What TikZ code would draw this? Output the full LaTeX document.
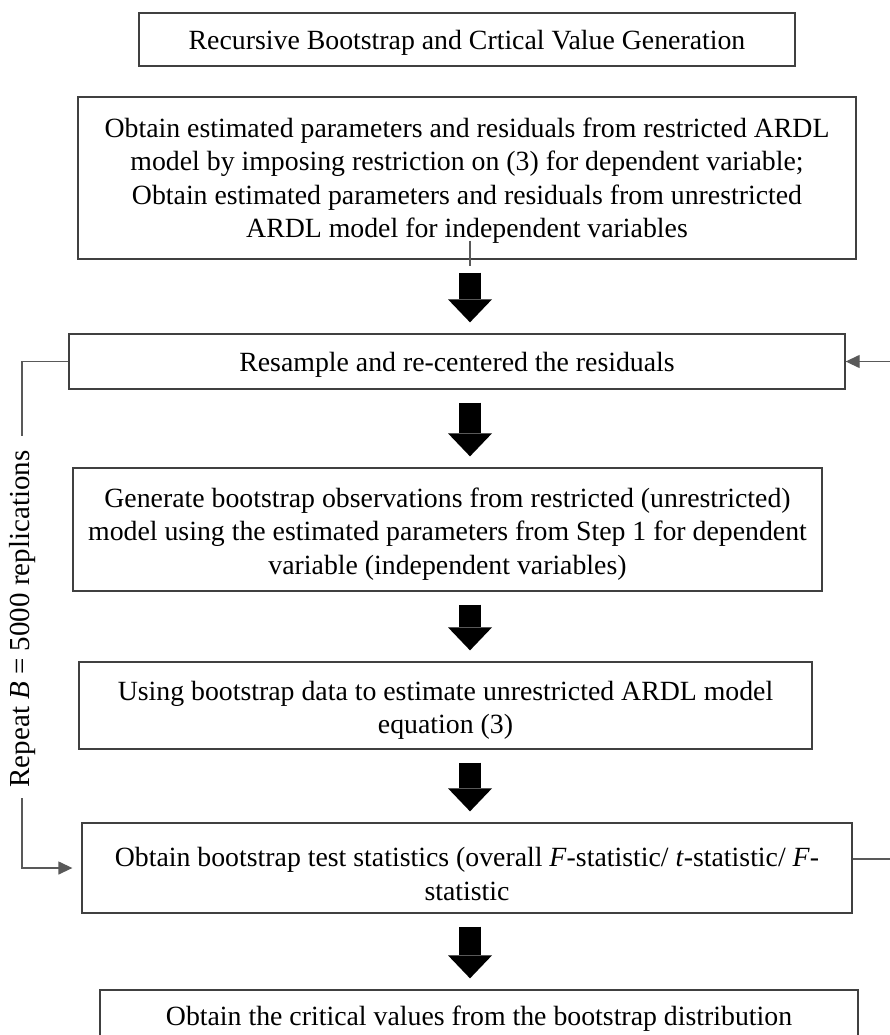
\documentclass[tikz,border=0pt]{standalone}
\usepackage{fontspec}
\setmainfont{Liberation Serif}
\usetikzlibrary{arrows.meta}
\newcommand\mydown[1]{\rule{0pt}{#1}}
\begin{document}
\begin{tikzpicture}[x=1pt,y=-1pt,
  box/.style={draw=black!75, line width=1.3pt, align=center, inner sep=0pt,
    font=\fontsize{27.8}{33.5}\selectfont, text=black},
  big/.style={line width=22pt, black, -{Triangle[width=44pt,length=23pt,line width=0pt]},
    shorten <=13pt, shorten >=11pt},
  thinline/.style={draw=black!65, line width=1.3pt},
  tip/.style={-{Triangle[length=14pt,width=13pt]}}
]
\useasboundingbox (0,0) rectangle (890,1035);
\clip (0,0) rectangle (890,1035);
\fill[white] (0,0) rectangle (890,1035);

\node[box, minimum width=656pt, minimum height=53pt] (b1) at (467,39.5)
  {\mydown{25pt}Recursive Bootstrap and Crtical Value Generation};
\node[box, minimum width=778pt, minimum height=162pt] (b2) at (467,178)
  {\mydown{25pt}Obtain estimated parameters and residuals from restricted ARDL\\
   model by imposing restriction on (3) for dependent variable;\\
   Obtain estimated parameters and residuals from unrestricted\\
   ARDL model for independent variables};
\node[box, minimum width=776pt, minimum height=55pt] (b3) at (457,361.5)
  {\mydown{25pt}Resample and re-centered the residuals};
\node[box, minimum width=749pt, minimum height=123pt] (b4) at (447.5,529.5)
  {\mydown{28pt}Generate bootstrap observations from restricted (unrestricted)\\
   model using the estimated parameters from Step 1 for dependent\\
   variable (independent variables)};
\node[box, minimum width=733pt, minimum height=87pt] (b5) at (445.5,705.5)
  {\mydown{29pt}Using bootstrap data to estimate unrestricted ARDL model\\
   equation (3)};
\node[box, minimum width=770pt, minimum height=90pt] (b6) at (467,868)
  {\mydown{31pt}Obtain bootstrap test statistics (overall \textit{F}-statistic/ \textit{t}-statistic/ \textit{F}-\\
   statistic};
\node[box, minimum width=758pt, minimum height=55pt] (b7) at (479,1017.5)
  {\mydown{21pt}Obtain the critical values from the bootstrap distribution};

% block arrows
\coordinate (ax) at (470,0);
\draw[big] (b2.south -| ax) -- (b3.north -| ax);
\draw[big] (b3.south -| ax) -- (b4.north -| ax);
\draw[big] (b4.south -| ax) -- (b5.north -| ax);
\draw[big] (b5.south -| ax) -- (b6.north -| ax);
\draw[big] (b6.south -| ax) -- (b7.north -| ax);

% stray tick in box 2
\coordinate (s) at (b2.south -| ax);
\draw[thinline] ([yshift=19pt]s) -- ([yshift=-6pt]s);

% repeat loop (left)
\node[rotate=90, font=\fontsize{29}{34}\selectfont, text=black] (rep) at (23,619)
  {Repeat \textit{B} = 5000 replications};
\coordinate (l1) at (22,436);
\coordinate (l2) at (22,798);
\draw[thinline] (b3.west) -| (l1);
\draw[thinline, tip, shorten >=9pt] (l2) |- (b6.west);

% right loop stubs
\coordinate (r1) at (890,361.5);
\coordinate (r2) at (890,859);
\draw[thinline, tip] (r1) -- (b3.east);
\draw[thinline] ([yshift=9pt]b6.east) -- (r2);
\end{tikzpicture}
\end{document}
